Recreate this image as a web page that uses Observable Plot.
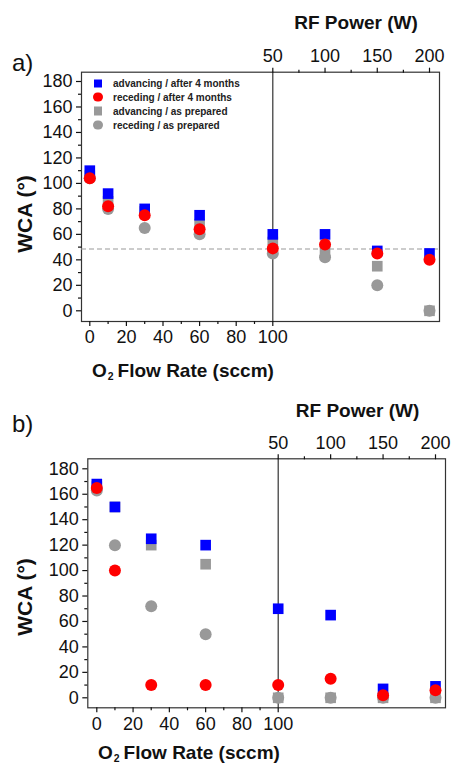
<!DOCTYPE html>
<html>
<head>
<meta charset="utf-8">
<script src="https://cdn.jsdelivr.net/npm/d3@7"></script>
<script src="https://cdn.jsdelivr.net/npm/@observablehq/plot@0.6"></script>
<style>
  html, body { margin: 0; padding: 0; background: white; }
  #root { position: relative; width: 453px; height: 765px; overflow: hidden; font-family: "Liberation Sans", Arial, sans-serif; color: #111; }
  .abs { position: absolute; white-space: nowrap; line-height: 1; }
  .plot { position: absolute; left: 0; }
  .legend-row { position: absolute; display: flex; align-items: center; font-size: 10px; font-weight: bold; color: #222; }
  .sym { display: inline-block; margin-right: 7px; }
</style>
</head>
<body>
<div id="root"></div>
<script>
// ---------- data ----------
const flowRates = [0, 10, 30, 60, 100];        // O2 flow rate (sccm)
const rfPowers = [100, 150, 200];              // RF power (W)
const topTicks = [50, 100, 150, 200];
const bottomTicks = [0, 20, 40, 60, 80, 100];
const yTicks = [0, 20, 40, 60, 80, 100, 120, 140, 160, 180];

const seriesNames = ["advancing / as prepared", "receding / as prepared", "advancing / after 4 months", "receding / after 4 months"];
const legendOrder = ["advancing / after 4 months", "receding / after 4 months", "advancing / as prepared", "receding / as prepared"];

// panel a
const aAdvPrepFlow = [106, 86, 78, 68, 54];
const aRecPrepFlow = [104, 80, 65, 60, 45];
const aAdvAgedFlow = [110, 92, 80, 75, 60];
const aRecAgedFlow = [104, 82, 75, 64, 49];
const aAdvPrepRF = [47, 35, 0];
const aRecPrepRF = [42, 20, 0];
const aAdvAgedRF = [60, 47, 45];
const aRecAgedRF = [52, 45, 40];
const aThreshold = [48.5];

// panel b
const bAdvPrepFlow = [166, 150, 120, 105, 0];
const bRecPrepFlow = [163, 120, 72, 50, 0];
const bAdvAgedFlow = [168, 150, 125, 120, 70];
const bRecAgedFlow = [165, 100, 10, 10, 10];
const bAdvPrepRF = [0, 0, 0];
const bRecPrepRF = [0, 0, 0];
const bAdvAgedRF = [65, 7, 9];
const bRecAgedRF = [15, 2, 6];

// ---------- styling ----------
const style = {
  "advancing / as prepared": {symbol: "square", fill: "#999999"},
  "receding / as prepared": {symbol: "circle", fill: "#999999"},
  "advancing / after 4 months": {symbol: "square", fill: "#0000ff"},
  "receding / after 4 months": {symbol: "circle", fill: "#ff0000"}
};

function table(xs, cols) {
  const out = [];
  seriesNames.forEach((name, i) => {
    xs.forEach((x, j) => out.push({x, y: cols[i][j], series: name}));
  });
  return out;
}

function dotMarks(data) {
  return seriesNames.map(name => Plot.dot(data.filter(d => d.series === name), {
    x: "x", y: "y", r: 6, symbol: style[name].symbol, fill: style[name].fill, stroke: "none"
  }));
}

const root = document.getElementById("root");

function addText(html, cx, cy, opts) {
  const d = document.createElement("div");
  d.className = "abs";
  d.innerHTML = html;
  d.style.fontSize = opts.size + "px";
  d.style.fontWeight = opts.bold ? "bold" : "normal";
  let tr = "";
  if (opts.anchor === "start") { d.style.left = cx + "px"; tr = "translate(0,-50%)"; }
  else { d.style.left = cx + "px"; tr = "translate(-50%,-50%)"; }
  if (opts.rotate) tr += " rotate(-90deg)";
  d.style.top = cy + "px";
  d.style.transform = tr;
  root.appendChild(d);
}

function panel(g, flowCols, rfCols, threshold) {
  const H = 350;
  const off = g.top;
  const common = {
    width: 453, height: H,
    marginLeft: g.fL, marginRight: 453 - g.fR, marginTop: g.fT - off, marginBottom: H - (g.fB - off),
    style: {background: "transparent", fontFamily: "Liberation Sans, Arial, sans-serif", fontSize: "18px", color: "#111", overflow: "visible"}
  };
  const yScale = {domain: [0, 180], range: [g.y0 - off, g.y180 - off], axis: null};

  const left = Plot.plot({
    ...common,
    x: {domain: [0, 100], range: [g.x0, g.x100], axis: null},
    y: yScale,
    marks: [
      Plot.frame({stroke: "#333", strokeWidth: 1.2}),
      ...(threshold ? [Plot.ruleY(threshold, {stroke: "#9a9a9a", strokeWidth: 1.2, strokeDasharray: "5,3"})] : []),
      Plot.ruleX([100], {stroke: "#333", strokeWidth: 1.2}),
      Plot.axisY({ticks: yTicks, tickSize: 5, tickPadding: 4, label: null, fontSize: 18, strokeWidth: 1.2}),
      Plot.axisY({ticks: d3.range(10, 180, 20), tickSize: 3, tickFormat: () => "", label: null, strokeWidth: 1.2}),
      Plot.axisX({ticks: bottomTicks, tickSize: 5, tickPadding: 4, label: null, fontSize: 18, anchor: "bottom", strokeWidth: 1.2}),
      Plot.axisX({ticks: d3.range(10, 100, 20), tickSize: 3, tickFormat: () => "", label: null, anchor: "bottom", strokeWidth: 1.2}),
      ...dotMarks(table(flowRates, flowCols))
    ]
  });
  left.classList.add("plot");
  left.style.top = off + "px";
  root.appendChild(left);

  const right = Plot.plot({
    ...common,
    x: {domain: [50, 200], range: [g.w50, g.w200], axis: null},
    y: yScale,
    marks: [
      Plot.axisX({ticks: topTicks, tickSize: 5, tickPadding: 5, label: null, fontSize: 18, anchor: "top", strokeWidth: 1.2}),
      Plot.axisX({ticks: [75, 125, 175], tickSize: 3, tickFormat: () => "", label: null, anchor: "top", strokeWidth: 1.2}),
      ...dotMarks(table(rfPowers, rfCols))
    ]
  });
  right.classList.add("plot");
  right.style.top = off + "px";
  root.appendChild(right);

  addText(g.letter, 12, g.letterY, {size: 24, anchor: "start"});
  addText("RF Power (W)", g.rfX, g.rfY, {size: 19, bold: true});
  addText("WCA (°)", 24, g.wcaY, {size: 21, bold: true, rotate: true});
  addText('O<span style="font-size:0.55em;position:relative;top:0.3em;margin:0 4px 0 1px">2</span>Flow Rate (sccm)', g.o2X, g.o2Y, {size: 19, bold: true, anchor: "start"});
}

panel({top: 0, fL: 81, fR: 439, fT: 71.7, fB: 321, y0: 310.3, y180: 81, x0: 89.3, x100: 272.3, w50: 272.3, w200: 429,
       letter: "a)", letterY: 63, rfX: 356, rfY: 22, wcaY: 214, o2X: 92, o2Y: 370},
      [aAdvPrepFlow, aRecPrepFlow, aAdvAgedFlow, aRecAgedFlow],
      [aAdvPrepRF, aRecPrepRF, aAdvAgedRF, aRecAgedRF], aThreshold);

panel({top: 380, fL: 87.3, fR: 445, fT: 458.3, fB: 707.3, y0: 697.3, y180: 468.3, x0: 96.3, x100: 277.7, w50: 277.7, w200: 435,
       letter: "b)", letterY: 424, rfX: 357.6, rfY: 410, wcaY: 597, o2X: 98, o2Y: 752},
      [bAdvPrepFlow, bRecPrepFlow, bAdvAgedFlow, bRecAgedFlow],
      [bAdvPrepRF, bRecPrepRF, bAdvAgedRF, bRecAgedRF], null);

// legend (panel a)
const legendRowsY = [83.3, 97, 111, 125];
legendOrder.forEach((name, i) => {
  const row = document.createElement("div");
  row.className = "legend-row";
  row.style.left = "93px";
  row.style.top = legendRowsY[i] + "px";
  row.style.transform = "translateY(-50%)";
  const s = document.createElement("span");
  s.className = "sym";
  const sq = style[name].symbol === "square";
  s.style.width = (sq ? 8.5 : 9.5) + "px";
  s.style.height = (sq ? 8.5 : 9.5) + "px";
  s.style.background = style[name].fill;
  s.style.borderRadius = sq ? "0" : "50%";
  s.style.marginLeft = sq ? "0.5px" : "0";
  s.style.marginRight = sq ? "11px" : "10.5px";
  row.appendChild(s);
  row.appendChild(document.createTextNode(name));
  root.appendChild(row);
});
</script>
</body>
</html>
